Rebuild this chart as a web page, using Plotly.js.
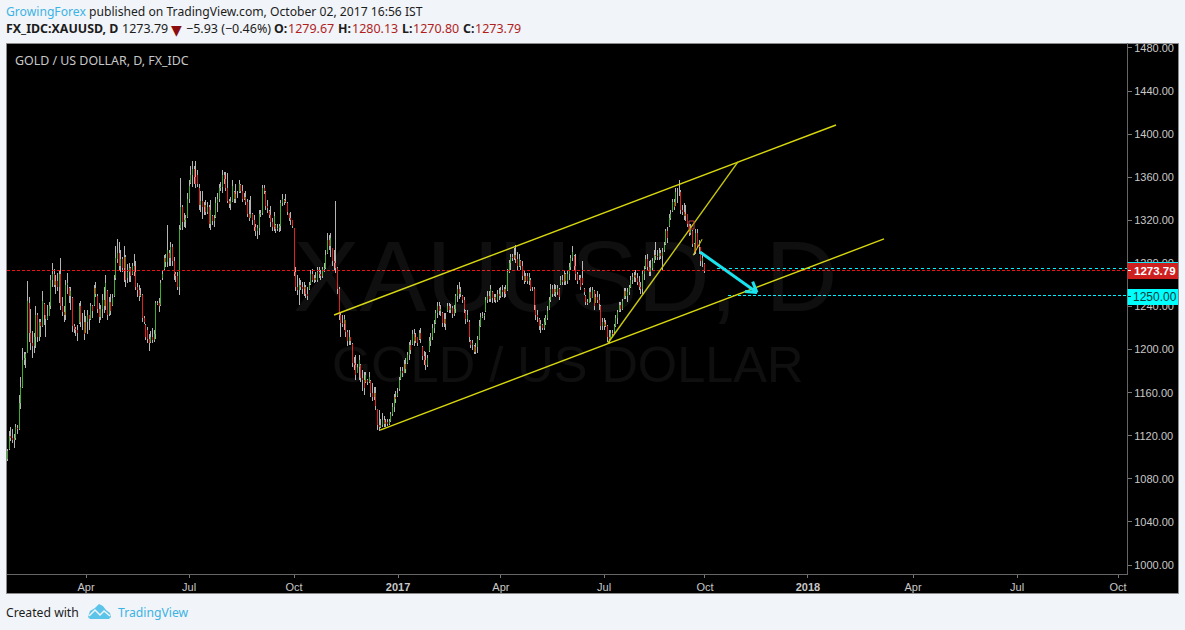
<!DOCTYPE html>
<html>
<head>
<meta charset="utf-8">
<script src="https://cdn.plot.ly/plotly-3.0.1.min.js"></script>
<style>
html,body{margin:0;padding:0;background:#f1f4f8;}
#chart{width:1185px;height:630px;}
.scatterlayer path{shape-rendering:crispEdges;}
.shapelayer path[style*="dasharray"]{shape-rendering:crispEdges;}
</style>
</head>
<body>
<div id="chart"></div>
<script>
var highs = [
1108,1124,1128,1126,1122,1131,1130,1158,1175,1201,
1198,1198,1264,1249,1238,1217,1215,1240,1234,1228,
1228,1254,1243,1232,1241,1244,1269,1280,1275,1269,
1271,1274,1285,1249,1240,1265,1271,1258,1258,1249,
1224,1221,1223,1243,1245,1234,1237,1231,1237,1231,
1243,1241,1260,1263,1252,1243,1241,1252,1258,1269,
1255,1249,1252,1252,1269,1296,1303,1300,1292,1286,
1296,1288,1279,1280,1277,1280,1289,1282,1262,1260,
1257,1252,1231,1224,1221,1214,1217,1220,1218,1245,
1245,1248,1265,1274,1288,1289,1316,1292,1300,1298,
1286,1272,1272,1316,1359,1334,1327,1325,1345,1357,
1370,1375,1370,1375,1367,1354,1347,1347,1337,1339,
1337,1334,1339,1325,1325,1342,1345,1354,1356,1367,
1365,1365,1364,1340,1342,1357,1347,1354,1347,1357,
1354,1353,1345,1347,1340,1339,1343,1327,1325,1317,
1316,1330,1330,1353,1353,1347,1339,1330,1333,1322,
1328,1317,1317,1317,1339,1344,1340,1344,1337,1327,
1328,1320,1313,1277,1269,1266,1265,1263,1263,1260,
1258,1263,1274,1275,1269,1272,1277,1277,1274,1277,
1280,1292,1308,1306,1308,1294,1292,1338,1277,1258,
1234,1232,1232,1227,1218,1218,1212,1206,1193,1195,
1187,1195,1187,1181,1179,1179,1173,1179,1172,1169,
1165,1165,1145,1144,1136,1141,1138,1136,1136,1136,
1142,1150,1159,1162,1164,1175,1184,1184,1190,1192,
1198,1207,1209,1218,1219,1215,1212,1218,1220,1203,
1199,1198,1195,1212,1215,1224,1227,1237,1244,1244,
1241,1235,1234,1234,1243,1243,1242,1240,1241,1252,
1260,1263,1258,1251,1249,1237,1237,1227,1209,1209,
1204,1206,1213,1227,1234,1235,1234,1249,1254,1254,
1260,1254,1252,1252,1255,1257,1258,1260,1258,1260,
1275,1283,1289,1289,1294,1297,1291,1289,1283,1282,
1274,1271,1271,1271,1266,1258,1258,1241,1237,1229,
1227,1224,1229,1232,1240,1249,1261,1260,1261,1260,
1260,1257,1268,1269,1274,1271,1274,1280,1288,1296,
1288,1289,1272,1269,1269,1282,1257,1251,1247,1257,
1258,1258,1255,1252,1254,1252,1241,1229,1229,1227,
1223,1218,1218,1218,1224,1232,1237,1244,1244,1247,
1257,1257,1257,1260,1268,1271,1272,1274,1271,1268,
1263,1274,1278,1288,1289,1282,1283,1285,1292,1300,
1292,1294,1292,1294,1300,1312,1314,1326,1330,1340,
1340,1350,1350,1357,1348,1334,1336,1334,1326,1317,
1317,1311,1299,1312,1312,1302,1295,1291,1280.13];
var lows = [
1097,1107,1115,1113,1109,1116,1122,1125,1145,1164,
1186,1183,1197,1207,1200,1192,1197,1201,1207,1208,
1212,1221,1223,1212,1227,1231,1238,1258,1258,1252,
1254,1243,1237,1231,1226,1227,1252,1243,1237,1216,
1215,1213,1208,1224,1221,1218,1209,1215,1214,1218,
1227,1229,1240,1249,1234,1225,1227,1229,1234,1237,
1227,1231,1232,1240,1249,1265,1280,1274,1272,1272,
1263,1258,1262,1263,1263,1269,1268,1255,1249,1245,
1249,1226,1224,1209,1206,1199,1206,1206,1207,1210,
1241,1235,1240,1265,1274,1277,1277,1278,1278,1278,
1265,1263,1255,1251,1311,1311,1314,1313,1322,1336,
1354,1351,1354,1350,1351,1330,1328,1321,1325,1325,
1326,1313,1311,1316,1314,1322,1328,1337,1347,1345,
1354,1347,1336,1331,1330,1337,1336,1336,1341,1345,
1345,1337,1339,1334,1323,1319,1323,1316,1310,1305,
1303,1306,1323,1325,1344,1330,1327,1322,1314,1310,
1310,1308,1310,1309,1310,1333,1334,1336,1325,1319,
1316,1313,1268,1254,1251,1241,1255,1252,1250,1248,
1246,1255,1260,1263,1262,1263,1263,1266,1265,1266,
1272,1275,1289,1292,1286,1278,1274,1271,1252,1227,
1212,1221,1218,1212,1203,1204,1204,1184,1181,1172,
1178,1172,1170,1162,1158,1169,1167,1169,1156,1152,
1153,1144,1125,1124,1127,1128,1128,1128,1129,1130,
1133,1138,1142,1150,1156,1162,1172,1175,1178,1178,
1187,1190,1196,1204,1203,1206,1203,1209,1206,1190,
1186,1181,1184,1198,1203,1209,1215,1224,1229,1232,
1231,1221,1221,1218,1235,1234,1234,1229,1231,1234,
1244,1247,1249,1243,1234,1224,1226,1207,1201,1200,
1196,1196,1197,1209,1221,1229,1227,1235,1243,1244,
1244,1243,1244,1243,1244,1246,1248,1249,1248,1249,
1254,1271,1274,1282,1283,1280,1274,1277,1274,1265,
1261,1263,1261,1260,1254,1254,1237,1227,1226,1218,
1215,1218,1218,1223,1227,1237,1244,1249,1250,1249,
1251,1246,1260,1260,1260,1260,1261,1265,1274,1282,
1274,1265,1261,1265,1255,1260,1251,1241,1241,1243,
1244,1248,1237,1243,1243,1237,1218,1218,1218,1221,
1207,1206,1209,1212,1215,1221,1224,1235,1235,1237,
1247,1247,1244,1251,1257,1261,1263,1263,1260,1255,
1252,1252,1265,1275,1274,1268,1268,1274,1280,1283,
1283,1283,1284,1274,1291,1297,1299,1314,1320,1328,
1330,1333,1336,1343,1326,1325,1320,1319,1314,1305,
1306,1295,1288,1289,1294,1289,1278,1277,1270.80];
var opens = [
1098,1108,1120,1118,1116,1118,1127,1126,1150,1165,
1190,1192,1197,1243,1215,1206,1203,1212,1232,1212,
1226,1222,1242,1232,1228,1231,1240,1265,1270,1260,
1264,1258,1270,1240,1235,1232,1260,1257,1250,1248,
1222,1219,1218,1225,1240,1226,1226,1215,1226,1232,
1228,1240,1241,1257,1250,1238,1230,1238,1246,1240,
1254,1233,1244,1241,1250,1266,1284,1290,1278,1284,
1276,1286,1266,1272,1276,1270,1278,1272,1258,1255,
1250,1251,1229,1223,1218,1210,1207,1212,1209,1214,
1242,1243,1241,1266,1275,1285,1281,1290,1285,1295,
1282,1270,1268,1258,1313,1332,1318,1320,1323,1340,
1355,1362,1368,1360,1362,1350,1334,1338,1332,1334,
1328,1332,1317,1324,1319,1323,1336,1340,1350,1351,
1362,1358,1350,1338,1335,1338,1346,1340,1344,1346,
1353,1347,1340,1342,1337,1326,1322,1326,1320,1314,
1310,1313,1326,1327,1350,1346,1333,1329,1325,1318,
1314,1316,1312,1313,1315,1336,1339,1337,1336,1327,
1322,1320,1313,1272,1258,1255,1260,1258,1256,1258,
1252,1256,1261,1270,1265,1266,1265,1272,1270,1268,
1275,1276,1290,1302,1296,1294,1282,1280,1276,1256,
1232,1225,1224,1227,1216,1208,1212,1205,1188,1186,
1178,1184,1186,1174,1172,1170,1172,1170,1171,1160,
1156,1160,1145,1130,1128,1130,1135,1131,1133,1131,
1134,1140,1147,1156,1157,1163,1173,1180,1178,1187,
1188,1195,1204,1205,1214,1208,1212,1210,1215,1202,
1194,1190,1186,1199,1208,1212,1220,1225,1234,1240,
1236,1234,1225,1228,1236,1240,1237,1239,1233,1238,
1250,1256,1252,1250,1246,1236,1228,1226,1208,1204,
1203,1198,1202,1210,1222,1230,1231,1236,1246,1250,
1247,1253,1248,1249,1246,1252,1250,1255,1253,1256,
1255,1272,1280,1286,1285,1288,1284,1278,1282,1278,
1268,1264,1268,1264,1265,1256,1256,1241,1232,1228,
1222,1223,1220,1226,1229,1238,1246,1256,1252,1256,
1253,1256,1261,1265,1263,1270,1264,1270,1277,1285,
1287,1278,1270,1266,1266,1266,1256,1250,1244,1243,
1253,1248,1254,1243,1249,1246,1240,1222,1226,1222,
1222,1212,1210,1215,1216,1222,1229,1236,1241,1238,
1248,1254,1250,1253,1258,1265,1267,1269,1266,1263,
1258,1256,1270,1276,1284,1277,1272,1276,1282,1288,
1287,1286,1290,1287,1292,1298,1310,1315,1322,1329,
1337,1333,1346,1346,1346,1330,1328,1324,1326,1315,
1308,1310,1298,1291,1308,1296,1295,1282,1279.67];
var closes = [
1106,1120,1118,1116,1118,1128,1126,1150,1165,1190,
1192,1196,1245,1215,1206,1203,1212,1232,1212,1226,
1222,1245,1232,1228,1231,1240,1265,1270,1260,1264,
1258,1270,1240,1235,1232,1260,1262,1250,1254,1222,
1219,1218,1215,1240,1226,1226,1214,1226,1232,1228,
1240,1236,1257,1252,1238,1230,1238,1246,1240,1262,
1232,1244,1236,1248,1265,1285,1290,1278,1284,1276,
1286,1265,1272,1276,1268,1278,1272,1258,1255,1250,
1251,1229,1226,1212,1210,1206,1212,1209,1214,1243,
1243,1240,1262,1270,1285,1281,1292,1285,1295,1282,
1270,1268,1258,1312,1332,1318,1320,1322,1340,1352,
1362,1368,1360,1354,1354,1334,1338,1332,1334,1328,
1332,1317,1330,1319,1322,1336,1340,1350,1351,1362,
1358,1350,1338,1335,1338,1352,1340,1344,1344,1354,
1347,1340,1342,1337,1326,1322,1326,1320,1314,1310,
1313,1326,1327,1350,1347,1333,1331,1325,1318,1314,
1324,1312,1313,1315,1336,1340,1337,1338,1328,1322,
1320,1315,1272,1258,1255,1260,1258,1256,1258,1252,
1250,1260,1270,1265,1266,1265,1272,1270,1268,1275,
1276,1288,1302,1296,1304,1282,1280,1276,1256,1232,
1225,1224,1228,1216,1208,1212,1208,1188,1186,1176,
1184,1190,1174,1172,1164,1176,1170,1175,1160,1156,
1160,1148,1130,1128,1130,1135,1131,1133,1131,1134,
1140,1147,1156,1154,1160,1172,1180,1178,1187,1182,
1195,1204,1200,1214,1208,1212,1206,1215,1210,1194,
1190,1186,1192,1208,1212,1220,1224,1234,1240,1236,
1238,1225,1228,1224,1240,1237,1239,1233,1238,1250,
1256,1252,1253,1246,1238,1228,1232,1212,1204,1206,
1198,1202,1210,1222,1230,1231,1232,1246,1250,1247,
1256,1248,1249,1246,1252,1250,1255,1253,1256,1252,
1272,1280,1286,1285,1288,1284,1278,1284,1278,1268,
1264,1268,1264,1267,1256,1256,1241,1232,1230,1222,
1224,1220,1226,1229,1236,1246,1256,1252,1256,1253,
1257,1249,1265,1263,1270,1264,1270,1277,1285,1291,
1278,1270,1264,1266,1258,1262,1253,1244,1243,1253,
1248,1255,1240,1249,1246,1242,1222,1226,1222,1224,
1212,1210,1215,1214,1222,1229,1235,1241,1238,1245,
1254,1250,1253,1258,1265,1267,1269,1266,1263,1258,
1256,1270,1275,1284,1277,1272,1276,1282,1288,1287,
1286,1290,1287,1291,1297,1310,1304,1322,1326,1337,
1332,1346,1346,1346,1330,1328,1324,1326,1317,1308,
1312,1298,1291,1308,1296,1295,1282,1285,1273.79];

var monthBars = [47.1,108.9,171.9,234.3,296,357.9,418.4,480.2,543.2,605.6,666.2];
var monthLabels = ['Apr','Jul','Oct','<b>2017</b>','Apr','Jul','Oct','<b>2018</b>','Apr','Jul','Oct'];
var priceTicks = [1000,1040,1080,1120,1160,1200,1240,1280,1320,1360,1400,1440,1480];

var channelUpper = {bars:[195.9,497], prices:[1232.1,1408.5]};
var channelLower = {bars:[223.5,525.8], prices:[1125.3,1302.7]};
var trendSteep   = {bars:[360.2,438.2], prices:[1206.1,1374.2]};
var trendSmall   = {bars:[411.3,416.7], prices:[1287.5,1302.4]};
var arrowShaft   = {bars:[415.4,449.6], prices:[1290.6,1252.9]};
var arrowBarbA   = {bars:[442.4,449.6], prices:[1253.9,1252.9]};
var arrowBarbB   = {bars:[447,449.6], prices:[1263.1,1252.9]};
var lastPrice = 1273.79, cyanUpper = 1274.9, targetPrice = 1250;

var L=7, T=43, W=1120, H=531;
function pxX(p){return (p-L)/W;}
function pxY(p){return 1-(p-T)/H;}

var wx=[],wy=[],ux=[],uy=[],dx=[],dy=[];
for(var i=0;i<highs.length;i++){
  wx.push(i,i,null); wy.push(lows[i],highs[i],null);
  if(closes[i]>=opens[i]){ux.push(i,i,null);uy.push(opens[i],closes[i],null);}
  else{dx.push(i,i,null);dy.push(opens[i],closes[i],null);}
}
var traces=[
 {type:'scatter',mode:'lines',x:wx,y:wy,connectgaps:false,line:{color:'#b4b4b4',width:1},hoverinfo:'skip',showlegend:false},
 {type:'scatter',mode:'lines',x:ux,y:uy,connectgaps:false,line:{color:'#3fae2a',width:1},hoverinfo:'skip',showlegend:false},
 {type:'scatter',mode:'lines',x:dx,y:dy,connectgaps:false,line:{color:'#e0201c',width:1},hoverinfo:'skip',showlegend:false}
];

function seg(o,color,width,dash){
  return {type:'line',xref:'x',yref:'y',x0:o.bars[0],y0:o.prices[0],x1:o.bars[1],y1:o.prices[1],
    line:{color:color,width:width,dash:dash||'solid'},layer:'above'};
}
function rect(x0,y0,x1,y1,fill,lineColor,layer){
  return {type:'rect',xref:'paper',yref:'paper',x0:pxX(x0),x1:pxX(x1),y0:pxY(y0),y1:pxY(y1),
    fillcolor:fill,line:{color:lineColor||fill,width:lineColor?1:0},layer:layer||'above'};
}
function poly(pts,fill,lineColor,lw){
  var d=pts.map(function(p,i){return (i?'L':'M')+pxX(p[0]).toFixed(5)+','+pxY(p[1]).toFixed(5);}).join(' ');
  if(fill!=='none') d+=' Z';
  return {type:'path',xref:'paper',yref:'paper',path:d,fillcolor:fill==='none'?'rgba(0,0,0,0)':fill,
    line:{color:lineColor||'rgba(0,0,0,0)',width:lw||0},layer:'above'};
}
function hline(x0Bar,x1Bar,price,color,dash){
  return {type:'line',xref:'x',yref:'y',x0:x0Bar,x1:x1Bar,y0:price,y1:price,line:{color:color,width:1,dash:dash},layer:'above'};
}
var xEnd=(1127-7.5)/1.667, xStart=-0.3;
var shapes=[
 rect(6.5,43.5,1178.5,593.5,'#000000','#8a8a8a','below'),
 hline(xStart,xEnd,lastPrice,'#ee1111','3px,2px'),
 hline(425.7,xEnd,cyanUpper,'#00f0ff','3px,3px'),
 hline(432.3,xEnd,targetPrice,'#00f0ff','3px,2px'),
 seg(channelUpper,'#d8d80c',1.4),
 seg(channelLower,'#d8d80c',1.4),
 seg(trendSteep,'#c8c80c',1.4),
 seg(trendSmall,'#c8c80c',1.1),
 seg(arrowShaft,'#19e3ee',3),
 seg(arrowBarbA,'#19e3ee',3),
 seg(arrowBarbB,'#19e3ee',3),
 rect(689,221,694,229,'rgba(0,0,0,0)','#c04040'),
 rect(1127.5,262,1178,279,'#cf2020'),
 rect(1127.5,262,1178,263,'#19e3ee'),
 rect(1127.5,289,1178,305,'#00ffff'),
 rect(1128,270,1131,271,'#ffffff'),
 rect(1128,296,1131,297,'#003333'),
 poly([[88,617],[90,611],[95,608],[99,604],[103,606],[106,610],[110,613],[111,617],[109,619],[90,619]],'#5cc4e8'),
 poly([[89,616],[95,610],[100,615],[104,611],[110,616]],'none','#f1f4f8',1.5)
];

var uiFont='"Noto Sans", sans-serif', axisFont='"Liberation Sans", Arial, sans-serif';
function note(text,x,y,size,color,family,anchor){
  return {xref:'paper',yref:'paper',x:pxX(x),y:pxY(y),text:text,showarrow:false,
    xanchor:anchor||'left',yanchor:'middle',borderpad:0,borderwidth:0,
    font:{family:family||uiFont,size:size,color:color}};
}
var dark='#1c1c1c', red='#b01e1e';
var annotations=[
 note('XAUUSD, D',565,276,100,'rgba(255,255,255,0.06)',axisFont,'center'),
 note('GOLD / US DOLLAR',567.5,364.5,50.5,'rgba(255,255,255,0.06)',axisFont,'center'),
 note('<span style="color:#3bb3e4">GrowingForex</span> published on TradingView.com, October 02, 2017 16:56 IST',6,11,12.15,dark),
 note('<b>FX_IDC:XAUUSD, D</b>',6,29,12.4,dark),
 note('1273.79',122,29,12.5,dark),
 note('▼',176.5,29.5,14,'#8b0d0d','"DejaVu Sans"','center'),
 note('−5.93 (−0.46%)',186,29,12.5,dark),
 note('<b>O:</b>',274,29,12.4,dark), note('1279.67',288,29,12.5,red),
 note('<b>H:</b>',338,29,12.4,dark), note('1280.13',352,29,12.5,red),
 note('<b>L:</b>',402,29,12.4,dark), note('1270.80',413,29,12.5,red),
 note('<b>C:</b>',463,29,12.4,dark), note('1273.79',475,29,12.5,red),
 note('GOLD / US DOLLAR, D, FX_IDC',15,60.5,12.4,'#c8c8c8'),
 note('<b>1273.79</b>',1154.5,271,11.5,'#ffffff',axisFont,'center'),
 note('1250.00',1154.5,297,12,'#0c3b3b',axisFont,'center'),
 note('Created with',6,612,12.2,dark),
 note('TradingView',118,612,12.2,'#3bb3e4')
];

var layout={
 width:1185,height:630,
 margin:{l:L,r:1185-L-W,t:T,b:630-T-H,pad:0,autoexpand:false},
 paper_bgcolor:'#f1f4f8',plot_bgcolor:'#000000',
 showlegend:false,hovermode:false,dragmode:false,
 xaxis:{type:'linear',range:[xStart,xEnd],tickmode:'array',tickvals:monthBars,ticktext:monthLabels,
   showgrid:false,zeroline:false,showline:true,linecolor:'#666666',linewidth:1,
   ticks:'outside',ticklen:3,tickcolor:'#777777',tickwidth:1,
   tickfont:{family:axisFont,size:11,color:'#c8c8c8'},fixedrange:true,automargin:false},
 yaxis:{type:'linear',side:'right',range:[991.64,1484.62],tickmode:'array',tickvals:priceTicks,tickformat:'.2f',
   showgrid:false,zeroline:false,showline:true,linecolor:'#666666',linewidth:1,
   ticks:'outside',ticklen:4,tickcolor:'#777777',tickwidth:1,
   tickfont:{family:axisFont,size:11,color:'#c8c8c8'},fixedrange:true,automargin:false},
 shapes:shapes,annotations:annotations
};
Plotly.newPlot('chart',traces,layout,{displayModeBar:false,staticPlot:true,responsive:false});
</script>
</body>
</html>
